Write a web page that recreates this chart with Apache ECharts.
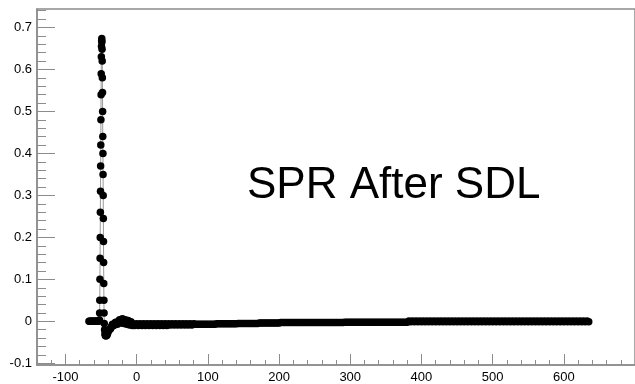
<!DOCTYPE html>
<html>
<head>
<meta charset="utf-8">
<script src="https://cdn.jsdelivr.net/npm/echarts@6/dist/echarts.min.js"></script>
<style>
  html, body { margin: 0; padding: 0; background: #fff; }
  #chart { width: 635px; height: 384px; }
</style>
</head>
<body>
<div id="chart"></div>
<script>
// Pulse waveform: time (ns) and amplitude, split into segments
const baselineT = [-67, -66, -65, -64, -63, -62, -61, -60, -59, -58, -57, -56, -55, -54, -53];
const baselineA = [0, 0, 0, 0, 0, 0, 0, 0, 0, 0, 0, 0, 0, 0, 0.001];

const pulseT = [-52.3, -52.0, -51.8, -51.6, -51.4, -51.2, -51.0, -50.8, -50.6, -50.4, -50.2, -50.0,
  -49.8, -49.6, -49.4, -49.2, -49.0, -48.8, -48.6, -48.4, -48.2, -48.0, -47.8, -47.6, -47.4, -47.2,
  -47.0, -46.8, -46.6, -46.4, -46.2, -46.0, -45.8, -45.5, -45.1, -44.6, -44.0, -43.3];
const pulseA = [0.003, 0.02, 0.05, 0.10, 0.15, 0.20, 0.26, 0.31, 0.37, 0.42, 0.48, 0.54,
  0.59, 0.63, 0.655, 0.668, 0.674, 0.666, 0.648, 0.62, 0.58, 0.545, 0.50, 0.44, 0.40, 0.35,
  0.30, 0.245, 0.19, 0.14, 0.09, 0.05, 0.02, -0.005, -0.02, -0.03, -0.034, -0.035];

const ringT = [-42, -41, -40, -39, -38, -37, -36, -35, -34, -33, -32, -31, -30, -29, -28, -27, -26, -25,
  -24, -23, -22, -21, -20, -19, -18, -17, -16, -15, -14, -13, -12, -11, -10, -9, -8, -7, -6];
const ringA = [-0.034, -0.030, -0.025, -0.021, -0.019, -0.018, -0.015, -0.011, -0.007, -0.008, -0.010,
  -0.007, -0.003, -0.002, -0.005, -0.007, -0.003, 0.001, 0.004, 0.000, -0.004, 0.002, 0.006, 0.002, -0.005,
  0.000, 0.004, -0.001, -0.007, -0.002, 0.002, -0.004, -0.009, -0.004, -0.001, -0.007, -0.010];

const tailT = [
  -5, -2.5, 0, 2.5, 5, 7.5, 10, 12.5, 15, 17.5, 20, 22.5, 25, 27.5, 30, 32.5, 35, 37.5, 40, 42.5,
  45, 47.5, 50, 52.5, 55, 57.5, 60, 62.5, 65, 67.5, 70, 72.5, 75, 77.5, 80,
  82.5, 85, 87.5, 90, 92.5, 95, 97.5, 100, 102.5, 105, 107.5, 110, 112.5, 115, 117.5, 120,
  122.5, 125, 127.5, 130, 132.5, 135, 137.5, 140, 142.5, 145, 147.5, 150, 152.5, 155, 157.5, 160,
  162.5, 165, 167.5, 170, 172.5, 175, 177.5, 180, 182.5, 185, 187.5, 190, 192.5, 195, 197.5, 200,
  202.5, 205, 207.5, 210, 212.5, 215, 217.5, 220, 222.5, 225, 227.5, 230, 232.5, 235, 237.5, 240,
  242.5, 245, 247.5, 250, 252.5, 255, 257.5, 260, 262.5, 265, 267.5, 270, 272.5, 275, 277.5, 280,
  282.5, 285, 287.5, 290, 292.5, 295, 297.5, 300, 302.5, 305, 307.5, 310, 312.5, 315, 317.5, 320,
  322.5, 325, 327.5, 330, 332.5, 335, 337.5, 340, 342.5, 345, 347.5, 350, 352.5, 355, 357.5, 360,
  362.5, 365, 367.5, 370, 372.5, 375, 377.5, 380,
  382.5, 385, 387.5, 390, 392.5, 395, 397.5, 400, 402.5, 405, 407.5, 410, 412.5, 415, 417.5, 420,
  422.5, 425, 427.5, 430, 432.5, 435, 437.5, 440, 442.5, 445, 447.5, 450, 452.5, 455, 457.5, 460,
  462.5, 465, 467.5, 470, 472.5, 475, 477.5, 480, 482.5, 485, 487.5, 490, 492.5, 495, 497.5, 500,
  502.5, 505, 507.5, 510, 512.5, 515, 517.5, 520, 522.5, 525, 527.5, 530, 532.5, 535, 537.5, 540,
  542.5, 545, 547.5, 550, 552.5, 555, 557.5, 560, 562.5, 565, 567.5, 570, 572.5, 575, 577.5, 580,
  582.5, 585, 587.5, 590, 592.5, 595, 597.5, 600, 602.5, 605, 607.5, 610, 612.5, 615, 617.5, 620,
  622.5, 625, 627.5, 630, 632.5, 635];
const tailA = [
  -0.006, -0.010, -0.006, -0.010, -0.006, -0.010, -0.006, -0.010, -0.006, -0.010,
  -0.006, -0.010, -0.006, -0.010, -0.006, -0.010, -0.006, -0.010, -0.006, -0.010,
  -0.006, -0.009, -0.006, -0.009, -0.006, -0.009, -0.006, -0.009, -0.006, -0.009,
  -0.006, -0.009, -0.006, -0.009, -0.006,
  -0.007, -0.007, -0.007, -0.007, -0.007, -0.007, -0.007, -0.007, -0.007, -0.007, -0.007, -0.007,
  -0.006, -0.006, -0.006, -0.006, -0.006, -0.006, -0.006, -0.006, -0.006, -0.006, -0.006, -0.006,
  -0.005, -0.005, -0.005, -0.005, -0.005, -0.005, -0.005, -0.005, -0.005, -0.005, -0.005, -0.005,
  -0.004, -0.004, -0.004, -0.004, -0.004, -0.004, -0.004, -0.004, -0.004, -0.004, -0.004, -0.004,
  -0.003, -0.003, -0.003, -0.003, -0.003, -0.003, -0.003, -0.003, -0.003, -0.003, -0.003, -0.003,
  -0.003, -0.003, -0.003, -0.003, -0.003, -0.003, -0.003, -0.003, -0.003, -0.003, -0.003, -0.003,
  -0.003, -0.003, -0.003, -0.003, -0.003, -0.003, -0.003, -0.003, -0.003, -0.003, -0.003, -0.003,
  -0.002, -0.002, -0.002, -0.002, -0.002, -0.002, -0.002, -0.002, -0.002, -0.002, -0.002, -0.002,
  -0.002, -0.002, -0.002, -0.002, -0.002, -0.002, -0.002, -0.002, -0.002, -0.002, -0.002, -0.002,
  -0.002, -0.002, -0.002, -0.002, -0.002, -0.002, -0.002, -0.002, -0.002, -0.002, -0.002, -0.002,
  0.001, -0.001, 0.001, -0.001, 0.001, -0.001, 0.001, -0.001, 0.001, -0.001, 0.001, -0.001,
  0.001, -0.001, 0.001, -0.001, 0.001, -0.001, 0.001, -0.001, 0.001, -0.001, 0.001, -0.001,
  0.001, -0.001, 0.001, -0.001, 0.001, -0.001, 0.001, -0.001, 0.001, -0.001, 0.001, -0.001,
  0.001, -0.001, 0.001, -0.001, 0.001, -0.001, 0.001, -0.001, 0.001, -0.001, 0.001, -0.001,
  0.001, -0.001, 0.001, -0.001, 0.001, -0.001, 0.001, -0.001, 0.001, -0.001, 0.001, -0.001,
  0.001, -0.001, 0.001, -0.001, 0.001, -0.001, 0.001, -0.001, 0.001, -0.001, 0.001, -0.001,
  0.001, -0.001, 0.001, -0.001, 0.001, -0.001, 0.001, -0.001, 0.001, -0.001, 0.001, -0.001,
  0.001, -0.001, 0.001, -0.001, 0.001, -0.001, 0.001, -0.001, 0.001, -0.001, 0.001, -0.001,
  0.001, -0.001, 0.001, -0.001, 0.001, -0.001];

// Axis ranges and tick values
const xRange = [-140, 700];
const yRange = [-0.104, 0.744];
const xMajorTicks = [-100, 0, 100, 200, 300, 400, 500, 600, 700];
const yMajorTicks = [-0.1, 0, 0.1, 0.2, 0.3, 0.4, 0.5, 0.6, 0.7];
const xMinorStep = 20;
const yMinorStep = 0.02;

const titleText = 'SPR After SDL';

function minorTicks(range, step) {
  const out = [];
  const start = Math.ceil(range[0] / step - 1e-9);
  const end = Math.floor(range[1] / step + 1e-9);
  for (let i = start; i <= end; i++) out.push(+(i * step).toFixed(6));
  return out;
}

const times = [].concat(baselineT, pulseT, ringT, tailT);
const amps = [].concat(baselineA, pulseA, ringA, tailA);
const points = times.map((t, i) => [t, amps[i]]);

const axisGrey = '#8c8c8c';
const labelFont = {
  color: '#000',
  fontFamily: '"Liberation Sans Narrow", "Liberation Sans", Arial, sans-serif',
  fontSize: 13
};

function fmtY(v) {
  const r = Math.round(v * 10) / 10;
  return r === 0 ? '0' : String(r);
}

const chart = echarts.init(document.getElementById('chart'), null, { renderer: 'canvas' });
chart.setOption({
  animation: false,
  backgroundColor: '#fff',
  grid: {
    left: 37, top: 9, right: -7, bottom: 17,
    show: true, borderColor: axisGrey, borderWidth: 1.5, backgroundColor: 'transparent'
  },
  xAxis: [
    {
      type: 'value', min: xRange[0], max: xRange[1], position: 'bottom',
      axisLine: { show: true, onZero: false, lineStyle: { color: axisGrey, width: 1.5 } },
      axisTick: { show: true, inside: true, length: 11, customValues: xMajorTicks, lineStyle: { color: axisGrey } },
      axisLabel: Object.assign({ customValues: xMajorTicks.slice(0, -1), margin: 6, formatter: v => String(v) }, labelFont),
      splitLine: { show: false }
    },
    {
      type: 'value', min: xRange[0], max: xRange[1], position: 'bottom', offset: 0,
      axisLine: { show: false, onZero: false },
      axisTick: { show: true, inside: true, length: 5, customValues: minorTicks(xRange, xMinorStep), lineStyle: { color: axisGrey } },
      axisLabel: { show: false },
      splitLine: { show: false }
    }
  ],
  yAxis: [
    {
      type: 'value', min: yRange[0], max: yRange[1], position: 'left',
      axisLine: { show: true, onZero: false, lineStyle: { color: axisGrey, width: 1.5 } },
      axisTick: { show: true, inside: true, length: 18, customValues: yMajorTicks, lineStyle: { color: axisGrey } },
      axisLabel: Object.assign({ customValues: yMajorTicks, margin: 5, formatter: fmtY }, labelFont),
      splitLine: { show: false }
    },
    {
      type: 'value', min: yRange[0], max: yRange[1], position: 'left', offset: 0,
      axisLine: { show: false, onZero: false },
      axisTick: { show: true, inside: true, length: 9, customValues: minorTicks(yRange, yMinorStep), lineStyle: { color: axisGrey } },
      axisLabel: { show: false },
      splitLine: { show: false }
    }
  ],
  series: [{
    type: 'line',
    xAxisIndex: 0, yAxisIndex: 0,
    data: points,
    showSymbol: true,
    showAllSymbol: true,
    symbol: 'circle',
    symbolSize: 7.5,
    itemStyle: { color: '#000' },
    lineStyle: { color: '#9a9a9a', width: 1 },
    emphasis: { disabled: true },
    z: 3
  }],
  graphic: [{
    type: 'text',
    x: 247, y: 164,
    style: {
      text: titleText,
      fill: '#000',
      font: '44px "Liberation Sans", Arial, sans-serif',
      textVerticalAlign: 'top'
    },
    z: 10
  }]
});
</script>
</body>
</html>
